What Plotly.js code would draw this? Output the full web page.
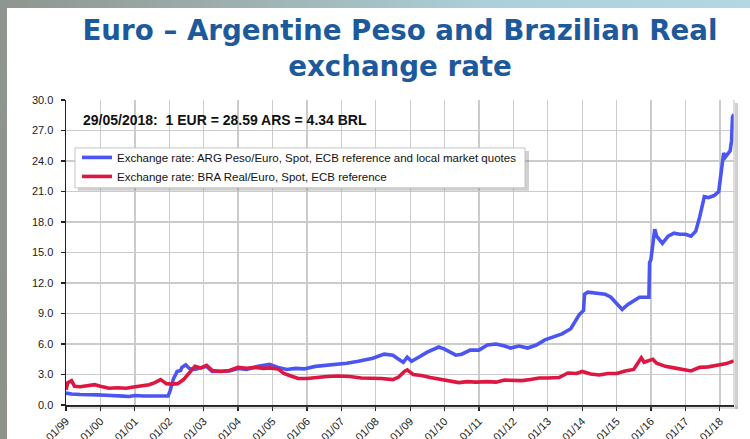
<!DOCTYPE html>
<html>
<head>
<meta charset="utf-8">
<script src="https://cdn.plot.ly/plotly-3.0.1.min.js"></script>
<style>
  html, body { margin: 0; padding: 0; background: #ffffff; }
  #wrap { position: relative; width: 750px; height: 439px; overflow: hidden; }
  #chart { position: absolute; left: 0; top: 0; width: 750px; height: 439px; }
  #topband { position: absolute; left: 0; top: 0; width: 750px; height: 8px;
    background: linear-gradient(to right, #8f958f 0%, #9fb3b3 35%, #acd0da 65%, #b3d8e2 100%); pointer-events: none; }
  #leftband { position: absolute; left: 0; top: 0; width: 7px; height: 439px;
    background: linear-gradient(to bottom, #8f958f, #8d928b); pointer-events: none; }
</style>
</head>
<body>
<div id="wrap">
  <div id="chart"></div>
  <div id="topband"></div>
  <div id="leftband"></div>
</div>
<script>
// ARG Peso per Euro
const argDates = [
  '1999-01-01','1999-03-01','1999-06-01','1999-09-01','1999-12-01',
  '2000-03-01','2000-06-01','2000-09-01','2000-11-01',
  '2001-01-01','2001-04-01','2001-07-01','2001-10-01','2001-12-20',
  '2002-01-10','2002-01-25','2002-02-15','2002-03-10','2002-03-25','2002-05-01','2002-05-15','2002-06-25','2002-08-01','2002-10-01',
  '2003-01-01','2003-02-01','2003-04-01','2003-07-01','2003-10-01',
  '2004-01-01','2004-04-01','2004-08-01','2004-12-01',
  '2005-03-01','2005-06-01','2005-09-01','2005-12-01',
  '2006-04-01','2006-08-01','2006-12-01',
  '2007-03-01','2007-07-01','2007-12-01',
  '2008-04-01','2008-07-01','2008-09-01','2008-10-20','2008-12-01',
  '2009-01-15','2009-04-01','2009-07-01','2009-11-01',
  '2010-01-01','2010-05-01','2010-07-01','2010-10-01',
  '2011-01-01','2011-04-01','2011-07-01','2011-10-01','2011-12-01',
  '2012-03-01','2012-06-01','2012-09-01','2012-12-01',
  '2013-03-01','2013-06-01','2013-09-01','2013-12-01',
  '2014-01-15','2014-01-25','2014-03-01','2014-06-01','2014-09-01','2014-11-01',
  '2015-01-01','2015-03-01','2015-05-01','2015-07-01','2015-09-01','2015-12-10','2015-12-17','2015-12-31',
  '2016-02-10','2016-03-01','2016-05-01','2016-07-01','2016-09-01','2016-11-01',
  '2017-01-01','2017-03-01','2017-04-20','2017-06-01','2017-07-20','2017-09-01','2017-11-01','2017-12-20',
  '2018-01-20','2018-02-10','2018-03-01','2018-04-20','2018-05-05','2018-05-15','2018-05-29'
];
const argValues = [
  1.17,1.08,1.04,1.05,1.00,
  0.96,0.95,0.87,0.84,
  0.94,0.88,0.86,0.91,0.88,
  1.4,1.9,2.6,3.0,3.3,3.4,3.7,3.95,3.6,3.5,
  3.7,3.8,3.3,3.3,3.35,
  3.6,3.5,3.8,4.0,
  3.7,3.5,3.6,3.55,
  3.8,3.9,4.05,
  4.1,4.3,4.6,
  5.0,4.9,4.5,4.2,4.7,
  4.3,4.7,5.2,5.7,
  5.5,4.9,5.0,5.4,
  5.4,5.9,6.0,5.8,5.6,
  5.8,5.6,5.9,6.4,
  6.7,7.0,7.5,8.9,
  9.3,10.9,11.1,11.0,10.9,10.6,
  10.0,9.4,9.9,10.2,10.6,10.6,14.0,14.3,
  17.3,16.6,15.9,16.6,16.9,16.8,
  16.8,16.6,17.1,18.5,20.5,20.4,20.6,21.0,
  23.5,24.8,24.4,25.0,26.0,28.3,28.59
];

// BRA Real per Euro
const braDates = [
  '1999-01-01','1999-01-20','1999-03-01','1999-04-01','1999-06-01','1999-09-01','1999-11-01',
  '2000-01-01','2000-04-01','2000-07-01','2000-10-01','2000-12-01',
  '2001-03-01','2001-06-01','2001-08-01','2001-10-01','2001-11-01','2001-12-01',
  '2002-02-01','2002-04-01','2002-06-01','2002-08-01','2002-10-01','2002-12-01',
  '2003-02-01','2003-04-01','2003-07-01','2003-10-01',
  '2004-01-01','2004-04-01','2004-07-01','2004-10-01','2004-12-01',
  '2005-03-01','2005-05-01','2005-07-01','2005-10-01',
  '2006-01-01','2006-05-01','2006-08-01','2006-12-01',
  '2007-04-01','2007-08-01','2007-12-01',
  '2008-03-01','2008-07-01','2008-09-01','2008-11-01','2008-12-01',
  '2009-02-01','2009-05-01','2009-08-01','2009-11-01',
  '2010-02-01','2010-06-01','2010-09-01','2010-12-01',
  '2011-04-01','2011-07-01','2011-10-01',
  '2012-01-01','2012-04-01','2012-07-01','2012-10-01',
  '2013-01-01','2013-05-01','2013-08-01','2013-11-01',
  '2014-01-01','2014-04-01','2014-07-01','2014-10-01',
  '2015-01-01','2015-04-01','2015-07-01','2015-09-20','2015-10-20','2015-12-01',
  '2016-01-20','2016-03-01','2016-06-01','2016-09-01','2016-12-01',
  '2017-03-01','2017-06-01','2017-09-01','2017-12-01',
  '2018-03-01','2018-05-29'
];
const braValues = [
  1.5,2.2,2.4,1.85,1.8,1.95,2.0,
  1.85,1.65,1.7,1.65,1.75,
  1.9,2.0,2.2,2.5,2.3,2.1,
  2.05,2.1,2.5,3.1,3.8,3.65,
  3.9,3.4,3.3,3.4,
  3.7,3.6,3.7,3.6,3.65,
  3.55,3.1,2.9,2.6,
  2.6,2.75,2.8,2.85,
  2.8,2.65,2.65,
  2.6,2.5,2.75,3.3,3.45,
  3.0,2.9,2.7,2.55,
  2.45,2.2,2.3,2.25,
  2.3,2.25,2.45,
  2.4,2.4,2.5,2.65,
  2.65,2.7,3.15,3.1,
  3.3,3.05,2.95,3.1,
  3.1,3.35,3.5,4.65,4.2,4.3,
  4.5,4.1,3.8,3.65,3.5,
  3.35,3.7,3.75,3.9,
  4.05,4.34
];

const yTicks = [0,3,6,9,12,15,18,21,24,27,30];
const yTickText = ['0.0','3.0','6.0','9.0','12.0','15.0','18.0','21.0','24.0','27.0','30.0'];
const xTicks = ['1999-01-01','2000-01-01','2001-01-01','2002-01-01','2003-01-01','2004-01-01','2005-01-01','2006-01-01','2007-01-01','2008-01-01','2009-01-01','2010-01-01','2011-01-01','2012-01-01','2013-01-01','2014-01-01','2015-01-01','2016-01-01','2017-01-01','2018-01-01'];
const xTickText = ['01/99','01/00','01/01','01/02','01/03','01/04','01/05','01/06','01/07','01/08','01/09','01/10','01/11','01/12','01/13','01/14','01/15','01/16','01/17','01/18'];

const argName = 'Exchange rate: ARG Peso/Euro, Spot, ECB reference and local market quotes';
const braName = 'Exchange rate: BRA Real/Euro, Spot, ECB reference';
const titleText = 'Euro – Argentine Peso and Brazilian Real<br>exchange rate';
const noteText = '29/05/2018:\u00a0\u00a01 EUR = 28.59 ARS = 4.34 BRL';

const traces = [
  { x: argDates, y: argValues, type: 'scatter', mode: 'lines', name: argName,
    line: { color: '#4a55f2', width: 3.6 } },
  { x: braDates, y: braValues, type: 'scatter', mode: 'lines', name: braName,
    line: { color: '#de1642', width: 3.6 } }
];

const W = 750, H = 439;
const L = 66, R = 734, T = 100, B = 405.5;
const pw = R - L, ph = B - T;
function px(x) { return (x - L) / pw; }
function py(y) { return (B - y) / ph; }

const layout = {
  width: W, height: H,
  margin: { l: L, r: W - R, t: T, b: H - B, pad: 0 },
  paper_bgcolor: '#ffffff',
  plot_bgcolor: '#ffffff',
  font: { family: 'Liberation Sans, Arial, sans-serif', color: '#1a1a1a', size: 11 },
  title: {
    text: titleText,
    font: { family: 'DejaVu Sans, Verdana, sans-serif', size: 27.7, color: '#1d5a9b', weight: 'bold' },
    xref: 'paper', x: 0.5, xanchor: 'center',
    yref: 'container', y: 1 - 40 / H, yanchor: 'top'
  },
  showlegend: true,
  legend: {
    x: px(77), y: py(143), xanchor: 'left', yanchor: 'top',
    bgcolor: 'rgba(0,0,0,0)', borderwidth: 0,
    font: { family: 'Liberation Sans, Arial, sans-serif', size: 11.5, color: '#111' },
    itemwidth: 30, tracegroupgap: 0
  },
  xaxis: {
    type: 'date', range: ['1999-01-01', '2018-05-31'],
    tickmode: 'array', tickvals: xTicks, ticktext: xTickText, tickangle: -45,
    showgrid: true, gridcolor: '#cbcbcb', gridwidth: 1.3,
    showline: true, linecolor: '#222', linewidth: 1.5,
    ticks: 'outside', ticklen: 4, tickcolor: '#222', tickwidth: 1.2,
    tickfont: { family: 'Liberation Sans, Arial, sans-serif', size: 11, color: '#1a1a1a' },
    zeroline: false, fixedrange: true
  },
  yaxis: {
    range: [0, 30], tickmode: 'array', tickvals: yTicks, ticktext: yTickText,
    showgrid: true, gridcolor: '#cbcbcb', gridwidth: 1.3,
    showline: true, linecolor: '#222', linewidth: 1.5,
    ticks: 'outside', ticklen: 4, tickcolor: '#222', tickwidth: 1.2,
    ticklabelstandoff: 5,
    tickfont: { family: 'Liberation Sans, Arial, sans-serif', size: 11, color: '#1a1a1a' },
    zeroline: false, fixedrange: true
  },
  annotations: [
    { text: noteText, xref: 'paper', yref: 'paper', x: px(81), y: py(120),
      xanchor: 'left', yanchor: 'middle', showarrow: false,
      font: { family: 'Liberation Sans, Arial, sans-serif', size: 14, color: '#111', weight: 'bold' } }
  ],
  shapes: [
    // right frame edge + shadow
    { type: 'line', xref: 'paper', yref: 'paper', x0: 1, x1: 1, y0: 0, y1: 1, line: { color: '#bdbdbd', width: 1 } },
    { type: 'rect', xref: 'paper', yref: 'paper', x0: 1 + 1 / pw, x1: 1 + 4 / pw, y0: -4 / ph, y1: 1 - 3 / ph,
      fillcolor: 'rgba(120,120,120,0.35)', line: { width: 0 } },
    { type: 'rect', xref: 'paper', yref: 'paper', x0: 4 / pw, x1: 1 + 4 / pw, y0: -4 / ph, y1: -1 / ph,
      fillcolor: 'rgba(120,120,120,0.25)', line: { width: 0 } },
    // legend shadow + box
    { type: 'rect', xref: 'paper', yref: 'paper', x0: px(78), x1: px(529), y0: py(191), y1: py(151),
      fillcolor: 'rgba(120,120,120,0.35)', line: { width: 0 }, layer: 'above' },
    { type: 'rect', xref: 'paper', yref: 'paper', x0: px(75), x1: px(525), y0: py(188), y1: py(148),
      fillcolor: '#ffffff', line: { color: '#c4c4c4', width: 1 }, layer: 'above' }
  ]
};

Plotly.newPlot('chart', traces, layout, { staticPlot: true, displayModeBar: false });
</script>
</body>
</html>
